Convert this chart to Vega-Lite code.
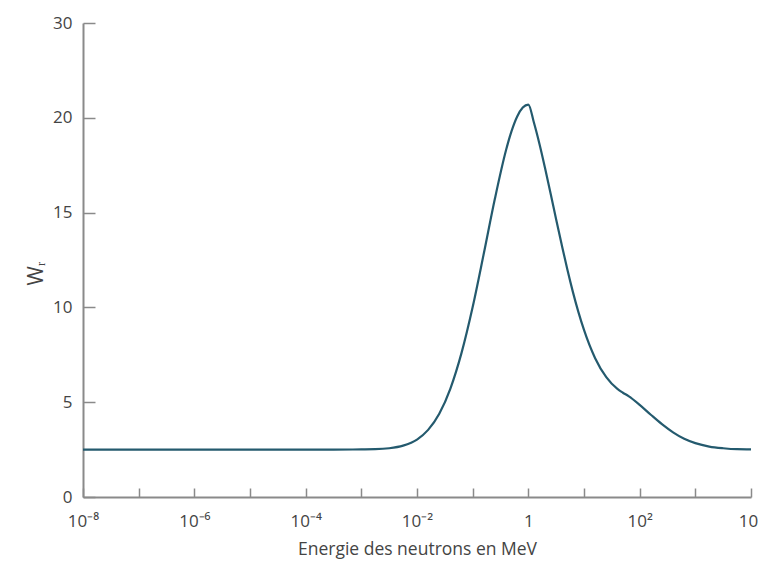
{
  "$schema": "https://vega.github.io/schema/vega-lite/v6.json",
  "autosize": {"type": "none"},
  "padding": {"left": 83, "top": 23, "right": 7, "bottom": 70},
  "width": 668,
  "height": 474,
  "background": "white",
  "config": {"view": {"stroke": null}},
  "data": {"values": [
    {"E": 1e-8, "W": 2.5},
    {"E": 1e-6, "W": 2.5},
    {"E": 1e-4, "W": 2.5},
    {"E": 0.0003162, "W": 2.5},
    {"E": 0.001, "W": 2.51},
    {"E": 0.001778, "W": 2.52},
    {"E": 0.003162, "W": 2.57},
    {"E": 0.005623, "W": 2.71},
    {"E": 0.01, "W": 3.03},
    {"E": 0.01585, "W": 3.54},
    {"E": 0.02512, "W": 4.39},
    {"E": 0.03981, "W": 5.72},
    {"E": 0.0631, "W": 7.6},
    {"E": 0.1, "W": 10.02},
    {"E": 0.1585, "W": 12.84},
    {"E": 0.2512, "W": 15.74},
    {"E": 0.3981, "W": 18.3},
    {"E": 0.5012, "W": 19.31},
    {"E": 0.631, "W": 20.07},
    {"E": 0.7943, "W": 20.54},
    {"E": 1, "W": 20.7},
    {"E": 1.259, "W": 19.75},
    {"E": 1.585, "W": 18.62},
    {"E": 1.995, "W": 17.35},
    {"E": 2.512, "W": 16.01},
    {"E": 3.162, "W": 14.64},
    {"E": 3.981, "W": 13.3},
    {"E": 5.012, "W": 12.01},
    {"E": 6.31, "W": 10.82},
    {"E": 7.943, "W": 9.75},
    {"E": 10, "W": 8.81},
    {"E": 15.85, "W": 7.32},
    {"E": 25.12, "W": 6.32},
    {"E": 39.81, "W": 5.7},
    {"E": 50, "W": 5.5},
    {"E": 63.1, "W": 5.32},
    {"E": 100, "W": 4.86},
    {"E": 158.5, "W": 4.34},
    {"E": 251.2, "W": 3.84},
    {"E": 398.1, "W": 3.41},
    {"E": 631, "W": 3.07},
    {"E": 1000, "W": 2.84},
    {"E": 1778, "W": 2.66},
    {"E": 3162, "W": 2.57},
    {"E": 5623, "W": 2.52},
    {"E": 10000, "W": 2.51}
  ]},
  "mark": {"type": "line", "color": "#245a6e", "strokeWidth": 2.2, "interpolate": "monotone", "clip": false},
  "encoding": {
    "x": {
      "field": "E", "type": "quantitative",
      "scale": {"type": "log", "domain": [1e-8, 10000], "nice": false},
      "axis": {
        "title": "Energie des neutrons en MeV",
        "values": [1e-8, 1e-7, 1e-6, 1e-5, 1e-4, 1e-3, 1e-2, 1e-1, 1, 10, 100, 1000, 10000],
        "labelExpr": "round(log(datum.value)/LN10) == -8 ? '10⁻⁸' : round(log(datum.value)/LN10) == -6 ? '10⁻⁶' : round(log(datum.value)/LN10) == -4 ? '10⁻⁴' : round(log(datum.value)/LN10) == -2 ? '10⁻²' : round(log(datum.value)/LN10) == 0 ? '1' : round(log(datum.value)/LN10) == 2 ? '10²' : round(log(datum.value)/LN10) == 4 ? '10⁴' : ''",
        "grid": false,
        "domainColor": "#8a8a8a", "domainWidth": 2,
        "tickColor": "#8a8a8a", "tickWidth": 1.5, "tickSize": -9,
        "labelPadding": 25, "labelFont": "Open Sans", "labelFontSize": 17, "labelColor": "#444444",
        "labelFlush": false, "labelOverlap": false, "labelBound": false,
        "titleFont": "Open Sans", "titleFontSize": 17.5, "titleFontWeight": "normal", "titleColor": "#444444",
        "titlePadding": 11
      }
    },
    "y": {
      "field": "W", "type": "quantitative",
      "scale": {"domain": [0, 25], "nice": false, "zero": true},
      "axis": {
        "title": "Wᵣ",
        "values": [0, 5, 10, 15, 20, 25],
        "labelExpr": "datum.value == 25 ? '30' : datum.label",
        "grid": false,
        "domainColor": "#8a8a8a", "domainWidth": 2,
        "tickColor": "#8a8a8a", "tickWidth": 1.5, "tickSize": -12,
        "labelPadding": 23, "labelFont": "Open Sans", "labelFontSize": 17, "labelColor": "#444444",
        "labelFlush": false, "labelOverlap": false, "labelBound": false,
        "titleFont": "Open Sans", "titleFontSize": 21, "titleFontWeight": "normal", "titleColor": "#444444",
        "titleAlign": "center", "titleBaseline": "alphabetic", "titleAngle": -90,
        "titleX": -41, "titleY": 250
      }
    }
  }
}
